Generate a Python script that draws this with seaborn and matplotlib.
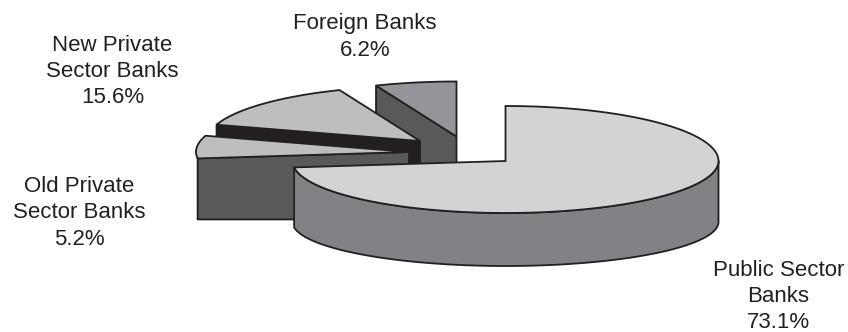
import numpy as np
import matplotlib
matplotlib.use("Agg")
import matplotlib.pyplot as plt
import seaborn as sns

sectors = ["Public Sector\nBanks", "Old Private\nSector Banks", "New Private\nSector Banks", "Foreign Banks"]
shares = [73.1, 5.2, 15.6, 6.2]

top_colors = ["#d1d3d4", "#bcbec0", "#bcbec0", "#939598"]
wall_colors = ["#808285", "#58595b", "#231f20", "#58595b"]
INK = "#231f20"

# Apex of each exploded slice on the canvas
apexes = [(505.5, 161.0), (409.0, 152.0), (420.0, 141.0), (456.5, 136.5)]
RX, RY_BACK, RY_FRONT, DEPTH, RY_LOWER = 213.0, 55.0, 52.0, 61.0, 44.0

label_spots = [(778.5, 296.5), (79, 213), (112.5, 71.5), (365, 37)]

sns.set_theme(style="white")
plt.rcParams["font.family"] = ["Liberation Sans", "DejaVu Sans"]


def foreshorten(angle):
    """Perspective shift of the rim on the rear left quarter of the pie."""
    angle = np.asarray(angle, dtype=float)
    shift = 8.0 * np.sin(np.radians(2.4 * (angle - 263.0)))
    return np.where((angle > 263.0) & (angle < 338.0), angle + shift, angle)


def rim(apex, angle):
    """Point on the top ellipse; angle runs clockwise from twelve o'clock."""
    a = np.radians(foreshorten(angle))
    c = np.cos(a)
    ry = np.where(c > 0, RY_BACK, RY_FRONT)
    return apex[0] + RX * np.sin(a), apex[1] - ry * c


def lower_rim(apex, angle):
    a = np.radians(foreshorten(angle))
    return apex[0] + RX * np.sin(a), apex[1] + DEPTH - RY_LOWER * np.cos(a)


def draw_slice(ax, apex, start, stop, top, wall):
    # Straight cut face on the leading edge, resting on a level floor
    if 180 < start < 360:
        x0, y0 = rim(apex, start)
        floor = max(float(y0), apex[1]) + DEPTH
        ax.fill([x0, apex[0], apex[0], x0], [y0, apex[1], floor, floor],
                fc=wall, ec=INK, lw=1.3, joinstyle="round")
    # Curved outer wall along the front of the rim, for slices wide enough to show one
    lo, hi = max(start, 90), min(stop, 270)
    if hi - lo > 30:
        t = np.linspace(lo, hi, 120)
        xt, yt = rim(apex, t)
        xb, yb = lower_rim(apex, t)
        ax.fill(np.r_[xt, xb[::-1]], np.r_[yt, yb[::-1]], fc=wall, ec=INK, lw=1.3, joinstyle="round")
    t = np.linspace(start, stop, 160)
    xt, yt = rim(apex, t)
    ax.fill(np.r_[apex[0], xt], np.r_[apex[1], yt], fc=top, ec=INK, lw=1.3, joinstyle="miter")


fig = plt.figure(figsize=(8.48, 3.32), dpi=100, facecolor="white")
ax = fig.add_axes([0, 0, 1, 1])
ax.set_xlim(0, 848)
ax.set_ylim(332, 0)
ax.axis("off")

# Slice angles come straight from the shares
fractions = np.array(shares) / np.sum(shares)
edges = np.r_[0, np.cumsum(fractions)] * 360

# Painted back to front: foreign, new private, old private, public
for i in [3, 2, 1, 0]:
    draw_slice(ax, apexes[i], edges[i], edges[i + 1], top_colors[i], wall_colors[i])

for name, share, (x, y) in zip(sectors, shares, label_spots):
    ax.text(x, y, f"{name}\n{share:.1f}%", ha="center", va="center",
            fontsize=16, color=INK, linespacing=1.32)

fig.savefig("out.png", dpi=100)
